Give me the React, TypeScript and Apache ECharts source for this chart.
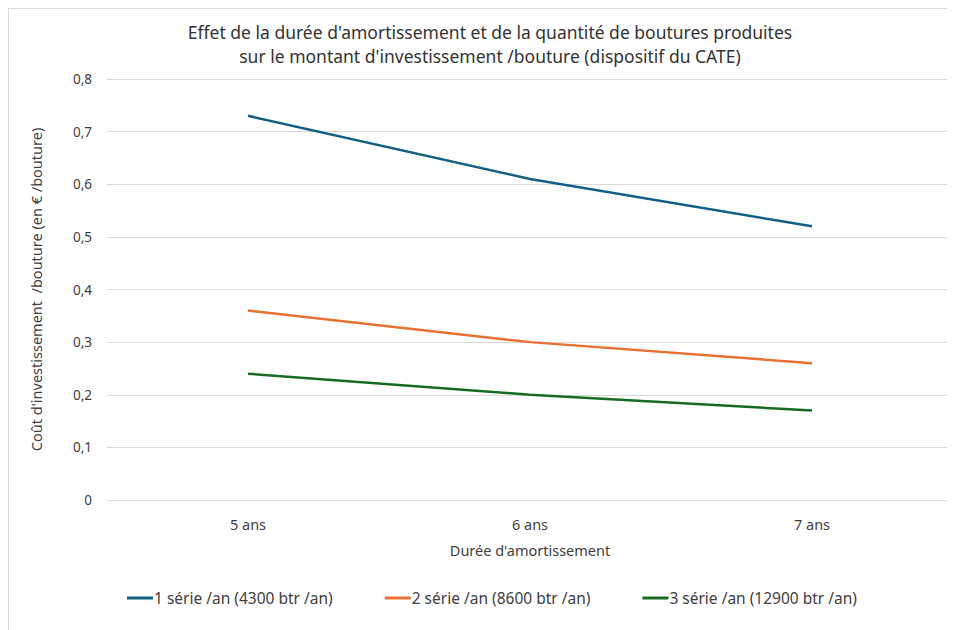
import React, { useEffect, useRef } from "react";
import * as echarts from "echarts";

const categories = ["5 ans", "6 ans", "7 ans"];
const serie1 = [0.73, 0.61, 0.52];
const serie2 = [0.36, 0.3, 0.26];
const serie3 = [0.24, 0.2, 0.17];
const seriesNames = [
  "1 série /an (4300 btr /an)",
  "2 série /an (8600 btr /an)",
  "3 série /an (12900 btr /an)",
];
const colors = ["#156082", "#E97132", "#196B24"];

export default function App() {
  const ref = useRef<HTMLDivElement>(null);
  useEffect(() => {
    const chart = echarts.init(ref.current!, null, { renderer: "svg" });
    const font = "Noto Sans";
    const data = [serie1, serie2, serie3];
    chart.setOption({
      animation: false,
      textStyle: { fontFamily: font },
      title: {
        text: "Effet de la durée d'amortissement et de la quantité de boutures produites\nsur le montant d'investissement /bouture (dispositif du CATE)",
        left: 476,
        top: 6,
        textAlign: "center",
        textStyle: {
          fontFamily: font,
          fontSize: 17.5,
          fontWeight: "normal",
          color: "#333333",
          lineHeight: 24,
        },
      },
      legend: {
        top: 576,
        left: 113,
        itemGap: 52,
        itemWidth: 26,
        itemHeight: 3,
        icon: "rect",
        textStyle: { fontFamily: font, fontSize: 15.5, color: "#404040", padding: [0, 0, 0, -4] },
        data: seriesNames,
      },
      grid: { left: 98, top: 70, width: 846, height: 421, containLabel: false },
      xAxis: {
        type: "category",
        data: categories,
        name: "Durée d'amortissement",
        nameLocation: "middle",
        nameGap: 42,
        nameTextStyle: { fontFamily: font, fontSize: 14.5, color: "#404040" },
        axisLine: { show: false },
        axisTick: { show: false },
        axisLabel: { fontFamily: font, fontSize: 14.5, color: "#404040", margin: 16 },
      },
      yAxis: {
        type: "value",
        min: 0,
        max: 0.8,
        interval: 0.1,
        name: "Coût d'investissement  /bouture (en € /bouture)",
        nameLocation: "middle",
        nameGap: 64,
        nameTextStyle: { fontFamily: font, fontSize: 14.5, color: "#404040" },
        axisLabel: {
          fontFamily: font,
          fontSize: 13.5,
          color: "#404040",
          margin: 15,
          formatter: (v: number) => (v === 0 ? "0" : v.toFixed(1).replace(".", ",")),
        },
        splitLine: { lineStyle: { color: "#D9D9D9", width: 1 } },
      },
      series: seriesNames.map((n, i) => ({
        name: n,
        type: "line",
        data: data[i],
        symbol: "none",
        itemStyle: { color: colors[i] },
        lineStyle: { color: colors[i], width: 2.5 },
      })),
    });
    return () => chart.dispose();
  }, []);
  return (
    <div
      style={{
        borderTop: "1px solid #D9D9D9",
        borderLeft: "1px solid #D9D9D9",
        width: 946,
        height: 621,
        boxSizing: "content-box",
        overflow: "hidden",
      }}
    >
      <div ref={ref} style={{ width: 946, height: 621 }} />
    </div>
  );
}
